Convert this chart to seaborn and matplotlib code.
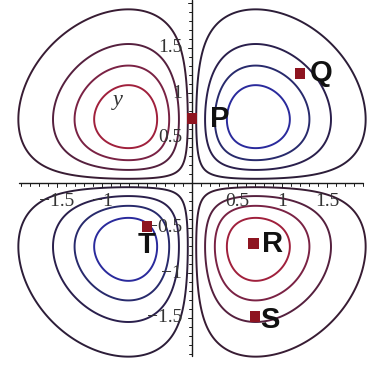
import numpy as np
import pandas as pd
import matplotlib
matplotlib.use("Agg")
import matplotlib.pyplot as plt
import seaborn as sns

# Level values of f(x, y) = x*y*exp(-(x^2 + y^2))
contour_levels = [-0.143, -0.102, -0.061, -0.020, 0.020, 0.061, 0.102, 0.143]
contour_colors = ["#a0203c", "#7a2244", "#55203e", "#381c33",
                  "#2c1d38", "#2a1f4c", "#282a6c", "#2a2a9c"]

# Labelled points
point_names = ["P", "Q", "R", "S", "T"]
point_x = [0.0, 1.2, 0.68, 0.70, -0.50]
point_y = [0.72, 1.22, -0.67, -1.48, -0.48]
label_x = [0.31, 1.43, 0.89, 0.87, -0.51]
label_y = [0.71, 1.22, -0.68, -1.52, -0.69]

# Axis tick labels
xtick_vals = [-1.5, -1.0, 0.5, 1.0, 1.5]
xtick_text = ["\u22121.5", "\u22121", "0.5", "1", "1.5"]
ytick_vals = [1.5, 1.0, 0.5, -0.5, -1.0, -1.5]
ytick_text = ["1.5", "1", "0.5", "\u22120.5", "\u22121", "\u22121.5"]

sns.set_theme(style="white")

fig = plt.figure(figsize=(3.76, 3.66), dpi=100)
ax = fig.add_axes([0, 0, 1, 1])
ax.set_xlim(-192 / 90, 184 / 90)
ax.set_ylim(-183 / 90, 183 / 90)

# Contour field
g = np.linspace(-2, 2, 401)
X, Y = np.meshgrid(g, g)
Z = X * Y * np.exp(-(X ** 2 + Y ** 2))
ax.contour(X, Y, Z, levels=contour_levels, colors=contour_colors,
           linewidths=1.4, zorder=2)

# Coordinate axes through the origin
ax_col = "#1a1a1a"
ax.plot([-1.92, 1.9], [0, 0], color=ax_col, lw=1.0, zorder=3)
ax.plot([0, 0], [-1.92, 2.03], color=ax_col, lw=1.0, zorder=3)
for t in np.arange(-19, 20):
    v = t / 10
    if t == 0:
        continue
    ln = 0.045 if t % 5 == 0 else 0.028
    ax.plot([v, v], [0, -ln], color=ax_col, lw=0.7, zorder=3)
for t in np.arange(-19, 21):
    v = t / 10
    if t == 0:
        continue
    ln = 0.045 if t % 5 == 0 else 0.028
    ax.plot([0, -ln], [v, v], color=ax_col, lw=0.7, zorder=3)

serif = ["Liberation Serif", "DejaVu Serif"]
for v, s in zip(xtick_vals, xtick_text):
    ax.text(v, -0.2, s, ha="center", va="center", fontsize=14,
            family=serif, color="#333333", zorder=4)
for v, s in zip(ytick_vals, ytick_text):
    ax.text(-0.11, v, s, ha="right", va="center", fontsize=14,
            family=serif, color="#333333", zorder=4)
ax.text(-0.83, 0.92, "y", ha="center", va="center", fontsize=16,
        family=serif, style="italic", color="#333333", zorder=4)

# Marked points
pts = pd.DataFrame({"name": point_names, "x": point_x, "y": point_y})
sns.scatterplot(data=pts, x="x", y="y", marker="s", s=62, color="#8e1420",
                edgecolor="none", ax=ax, zorder=5, legend=False)
ax.set_axis_off()
for n, lx, ly in zip(point_names, label_x, label_y):
    ax.text(lx, ly, n, ha="center", va="center", fontsize=21,
            fontweight="bold", family=["Liberation Sans", "DejaVu Sans"],
            color="#111111", zorder=6)

fig.savefig("out.png", dpi=100)
